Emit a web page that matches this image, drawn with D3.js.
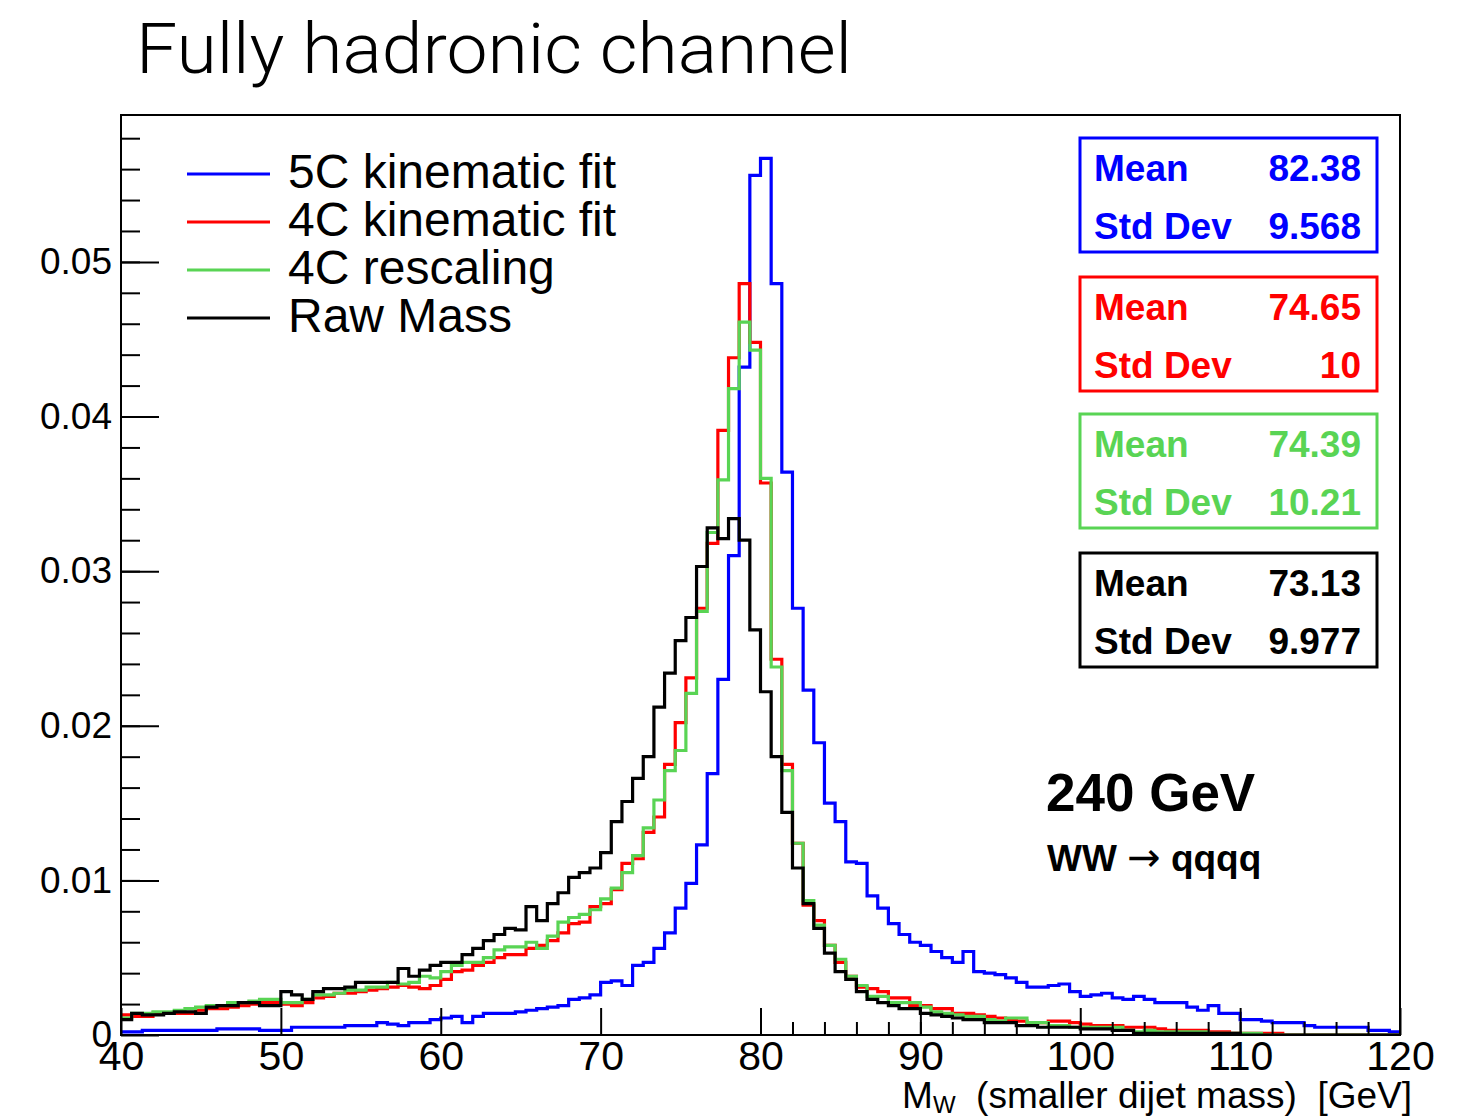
<!DOCTYPE html>
<html>
<head>
<meta charset="utf-8">
<script src="https://cdn.jsdelivr.net/npm/d3@7"></script>
<style>
  body { margin: 0; background: #fff; }
</style>
</head>
<body>
<div id="chart"></div>
<script>
// Set dimensions
const width = 1480;
const height = 1118;

// Histogram: 120 bins of 2/3 GeV from 40 to 120
const xMin = 40, xMax = 120, nBins = 120;

const seriesNames = ["5C kinematic fit", "4C kinematic fit", "4C rescaling", "Raw Mass"];
const seriesColors = ["#0000ff", "#ff0000", "#59d454", "#000000"];

const fit5C = [
  0.0002, 0.0002, 0.0003, 0.0003, 0.0003, 0.0003, 0.0003, 0.0003, 0.0003, 0.0004,
  0.0004, 0.0004, 0.0004, 0.0003, 0.0003, 0.0003, 0.0005, 0.0005, 0.0005, 0.0005,
  0.0005, 0.0006, 0.0006, 0.0006, 0.0008, 0.0007, 0.0006, 0.0008, 0.0008, 0.0010,
  0.0011, 0.0012, 0.0008, 0.0012, 0.0014, 0.0014, 0.0014, 0.0015, 0.0016, 0.0017,
  0.0018, 0.0019, 0.0023, 0.0024, 0.0026, 0.0034, 0.0035, 0.0032, 0.0045, 0.0047,
  0.0056, 0.0066, 0.0082, 0.0098, 0.0123, 0.0169, 0.0230, 0.0310, 0.0432, 0.0556,
  0.0567, 0.0486, 0.0364, 0.0276, 0.0223, 0.0189, 0.0150, 0.0138, 0.0112, 0.0111,
  0.0090, 0.0082, 0.0072, 0.0065, 0.0060, 0.0058, 0.0054, 0.0050, 0.0047, 0.0054,
  0.0041, 0.0040, 0.0039, 0.0037, 0.0034, 0.0031, 0.0031, 0.0032, 0.0033, 0.0028,
  0.0025, 0.0026, 0.0027, 0.0024, 0.0023, 0.0025, 0.0023, 0.0021, 0.0021, 0.0021,
  0.0018, 0.0016, 0.0019, 0.0014, 0.0014, 0.0010, 0.0010, 0.0009, 0.0008, 0.0008,
  0.0008, 0.0006, 0.0005, 0.0005, 0.0005, 0.0005, 0.0005, 0.0003, 0.0003, 0.0002
];

const fit4C = [
  0.0013, 0.0012, 0.0012, 0.0014, 0.0014, 0.0014, 0.0014, 0.0016, 0.0017, 0.0017,
  0.0018, 0.0019, 0.0020, 0.0021, 0.0021, 0.0020, 0.0019, 0.0021, 0.0024, 0.0025,
  0.0027, 0.0027, 0.0028, 0.0029, 0.0030, 0.0031, 0.0032, 0.0031, 0.0030, 0.0032,
  0.0036, 0.0041, 0.0042, 0.0045, 0.0047, 0.0050, 0.0052, 0.0052, 0.0056, 0.0058,
  0.0061, 0.0066, 0.0072, 0.0073, 0.0083, 0.0085, 0.0094, 0.0111, 0.0114, 0.0131,
  0.0141, 0.0175, 0.0202, 0.0231, 0.0276, 0.0318, 0.0391, 0.0438, 0.0486, 0.0448,
  0.0357, 0.0243, 0.0175, 0.0124, 0.0084, 0.0074, 0.0058, 0.0047, 0.0038, 0.0031,
  0.0030, 0.0028, 0.0024, 0.0024, 0.0019, 0.0019, 0.0017, 0.0017, 0.0014, 0.0014,
  0.0013, 0.0012, 0.0011, 0.0010, 0.0009, 0.0008, 0.0008, 0.0009, 0.0009, 0.0008,
  0.0007, 0.0006, 0.0006, 0.0006, 0.0005, 0.0005, 0.0005, 0.0004, 0.0003, 0.0003,
  0.0003, 0.0003, 0.0002, 0.0002, 0.0001, 0.0001, 0.0001, 0.0001, 0.0001, 0.0000,
  0.0000, 0.0000, 0.0000, 0.0000, 0.0000, 0.0000, 0.0000, 0.0000, 0.0000, 0.0000
];

const rescale4C = [
  0.0011, 0.0014, 0.0014, 0.0015, 0.0015, 0.0016, 0.0017, 0.0018, 0.0019, 0.0019,
  0.0021, 0.0021, 0.0022, 0.0023, 0.0023, 0.0021, 0.0021, 0.0023, 0.0026, 0.0026,
  0.0027, 0.0029, 0.0029, 0.0031, 0.0031, 0.0034, 0.0033, 0.0034, 0.0038, 0.0037,
  0.0041, 0.0045, 0.0047, 0.0047, 0.0050, 0.0055, 0.0057, 0.0057, 0.0060, 0.0056,
  0.0064, 0.0073, 0.0076, 0.0078, 0.0081, 0.0088, 0.0095, 0.0105, 0.0116, 0.0134,
  0.0152, 0.0171, 0.0184, 0.0221, 0.0274, 0.0325, 0.0359, 0.0418, 0.0461, 0.0443,
  0.0360, 0.0238, 0.0171, 0.0124, 0.0087, 0.0071, 0.0058, 0.0049, 0.0038, 0.0032,
  0.0025, 0.0025, 0.0021, 0.0021, 0.0021, 0.0018, 0.0015, 0.0014, 0.0013, 0.0012,
  0.0012, 0.0010, 0.0009, 0.0011, 0.0011, 0.0008, 0.0008, 0.0006, 0.0006, 0.0005,
  0.0005, 0.0005, 0.0005, 0.0005, 0.0003, 0.0002, 0.0003, 0.0002, 0.0002, 0.0002,
  0.0002, 0.0002, 0.0001, 0.0001, 0.0001, 0.0001, 0.0001, 0.0000, 0.0000, 0.0000,
  0.0000, 0.0000, 0.0000, 0.0000, 0.0000, 0.0000, 0.0000, 0.0000, 0.0000, 0.0000
];

const rawMass = [
  0.0010, 0.0014, 0.0013, 0.0013, 0.0014, 0.0015, 0.0015, 0.0014, 0.0018, 0.0019,
  0.0019, 0.0021, 0.0021, 0.0019, 0.0019, 0.0028, 0.0026, 0.0023, 0.0028, 0.0030,
  0.0030, 0.0031, 0.0034, 0.0034, 0.0034, 0.0034, 0.0043, 0.0038, 0.0042, 0.0045,
  0.0047, 0.0047, 0.0052, 0.0056, 0.0061, 0.0065, 0.0069, 0.0068, 0.0083, 0.0074,
  0.0085, 0.0092, 0.0102, 0.0105, 0.0108, 0.0118, 0.0138, 0.0151, 0.0166, 0.0180,
  0.0212, 0.0234, 0.0255, 0.0270, 0.0303, 0.0328, 0.0321, 0.0334, 0.0320, 0.0262,
  0.0222, 0.0180, 0.0144, 0.0108, 0.0085, 0.0069, 0.0053, 0.0041, 0.0036, 0.0028,
  0.0023, 0.0021, 0.0019, 0.0017, 0.0017, 0.0014, 0.0013, 0.0012, 0.0011, 0.0010,
  0.0010, 0.0008, 0.0008, 0.0008, 0.0006, 0.0006, 0.0005, 0.0005, 0.0005, 0.0005,
  0.0004, 0.0004, 0.0004, 0.0003, 0.0003, 0.0001, 0.0001, 0.0001, 0.0001, 0.0001,
  0.0001, 0.0001, 0.0001, 0.0001, 0.0001, 0.0000, 0.0000, 0.0000, 0.0000, 0.0000,
  0.0000, 0.0000, 0.0000, 0.0000, 0.0000, 0.0000, 0.0000, 0.0000, 0.0000, 0.0000
];

const statMean = ["82.38", "74.65", "74.39", "73.13"];
const statStdDev = ["9.568", "10", "10.21", "9.977"];

const yMajorTicks = [0, 0.01, 0.02, 0.03, 0.04, 0.05];
const xMajorTicks = [40, 50, 60, 70, 80, 90, 100, 110, 120];

const series = [fit5C, fit4C, rescale4C, rawMass];

// Frame of the pad
const frame = { left: 121, right: 1400, top: 115, bottom: 1035 };

const svg = d3.select("#chart")
  .append("svg")
  .attr("width", width)
  .attr("height", height)
  .attr("viewBox", [0, 0, width, height]);

svg.append("rect").attr("width", width).attr("height", height).attr("fill", "#fff");

const x = d3.scaleLinear().domain([xMin, xMax]).range([frame.left, frame.right]);
const y = d3.scaleLinear().domain([0, 0.0595]).range([frame.bottom, frame.top]);

const font = "'Liberation Sans', Arial, Helvetica, sans-serif";

// Title
svg.append("text")
  .attr("x", 136)
  .attr("y", 73)
  .attr("font-family", "Roboto, Lato, 'Open Sans', sans-serif")
  .attr("font-weight", 300)
  .attr("font-size", 70)
  .attr("textLength", 716)
  .attr("lengthAdjust", "spacingAndGlyphs")
  .text("Fully hadronic channel");

// Histograms (step lines)
const edges = d3.range(nBins + 1).map(i => xMin + i * (xMax - xMin) / nBins);

svg.append("clipPath").attr("id", "clip")
  .append("rect")
  .attr("x", frame.left).attr("y", frame.top)
  .attr("width", frame.right - frame.left).attr("height", frame.bottom - frame.top);

const line = d3.line()
  .x(d => x(d[0]))
  .y(d => y(d[1]))
  .curve(d3.curveStepAfter);

series.forEach((vals, k) => {
  const pts = vals.map((v, i) => [edges[i], v]);
  pts.push([xMax, vals[vals.length - 1]]);
  svg.append("path")
    .attr("clip-path", "url(#clip)")
    .attr("d", line(pts))
    .attr("fill", "none")
    .attr("stroke", seriesColors[k])
    .attr("stroke-width", 3.2)
    .attr("stroke-linejoin", "miter");
});

// Y axis: minor then major ticks (inside the frame)
const yMinor = d3.range(1, 30).map(i => i * 0.002);
svg.append("g")
  .attr("transform", `translate(${frame.left},0)`)
  .call(d3.axisLeft(y).tickValues(yMinor).tickSize(-19).tickSizeOuter(0).tickFormat(""))
  .call(g => g.select(".domain").remove())
  .call(g => g.selectAll("line").attr("stroke-width", 2));

svg.append("g")
  .attr("transform", `translate(${frame.left},0)`)
  .call(d3.axisLeft(y).tickValues(yMajorTicks).tickSize(-38).tickSizeOuter(0).tickPadding(9)
    .tickFormat(d => d === 0 ? "0" : d3.format(".2f")(d)))
  .call(g => g.select(".domain").remove())
  .call(g => g.selectAll("line").attr("stroke-width", 2))
  .call(g => g.selectAll("text").attr("font-family", font).attr("font-size", 37).attr("fill", "#000"));

// X axis
const xMinor = d3.range(41, 60).map(i => i * 2);
svg.append("g")
  .attr("transform", `translate(0,${frame.bottom})`)
  .call(d3.axisBottom(x).tickValues(xMinor).tickSize(-13).tickSizeOuter(0).tickFormat(""))
  .call(g => g.select(".domain").remove())
  .call(g => g.selectAll("line").attr("stroke-width", 2));

svg.append("g")
  .attr("transform", `translate(0,${frame.bottom})`)
  .call(d3.axisBottom(x).tickValues(xMajorTicks).tickSize(-27).tickSizeOuter(0).tickPadding(6))
  .call(g => g.select(".domain").remove())
  .call(g => g.selectAll("line").attr("stroke-width", 2))
  .call(g => g.selectAll("text").attr("font-family", font).attr("font-size", 41).attr("fill", "#000"));

// Frame
svg.append("rect")
  .attr("x", frame.left).attr("y", frame.top)
  .attr("width", frame.right - frame.left).attr("height", frame.bottom - frame.top)
  .attr("fill", "none").attr("stroke", "#000").attr("stroke-width", 2);

// X axis title
const xt = svg.append("text")
  .attr("x", 1412).attr("y", 1108)
  .attr("text-anchor", "end")
  .attr("font-family", font)
  .attr("font-size", 37);
xt.append("tspan").text("M");
xt.append("tspan").attr("font-size", 24).attr("dy", 5).text("W");
xt.append("tspan").attr("dy", -5).text("\u00a0\u00a0(smaller dijet mass)\u00a0\u00a0[GeV]");

// Legend
const legend = svg.append("g").attr("font-family", font).attr("font-size", 48);
seriesNames.forEach((name, k) => {
  const ly = 174 + k * 48;
  legend.append("line")
    .attr("x1", 187).attr("x2", 270).attr("y1", ly).attr("y2", ly)
    .attr("stroke", seriesColors[k]).attr("stroke-width", 3.2);
  legend.append("text")
    .attr("x", 288).attr("y", ly + 14)
    .text(name);
});

// Stat boxes
const boxTops = [138, 277, 414, 553];
seriesColors.forEach((c, k) => {
  const top = boxTops[k];
  const g = svg.append("g").attr("font-family", font).attr("font-weight", "bold")
    .attr("font-size", 37).attr("fill", c);
  g.append("rect")
    .attr("x", 1080).attr("y", top).attr("width", 297).attr("height", 114)
    .attr("fill", "#fff").attr("stroke", c).attr("stroke-width", 3);
  g.append("text").attr("x", 1094).attr("y", top + 43).text("Mean");
  g.append("text").attr("x", 1361).attr("y", top + 43).attr("text-anchor", "end").text(statMean[k]);
  g.append("text").attr("x", 1094).attr("y", top + 101).text("Std Dev");
  g.append("text").attr("x", 1361).attr("y", top + 101).attr("text-anchor", "end").text(statStdDev[k]);
});

// Annotations
svg.append("text")
  .attr("x", 1046).attr("y", 811)
  .attr("font-family", font).attr("font-weight", "bold").attr("font-size", 53)
  .text("240 GeV");
const ww = svg.append("text")
  .attr("x", 1047).attr("y", 871)
  .attr("font-family", font).attr("font-weight", "bold").attr("font-size", 37);
ww.append("tspan").text("WW\u00a0");
ww.append("tspan").attr("font-family", "'DejaVu Sans', sans-serif").attr("font-weight", "normal")
  .attr("font-size", 40).text("\u2192");
ww.append("tspan").text("\u00a0qqqq");
</script>
</body>
</html>
